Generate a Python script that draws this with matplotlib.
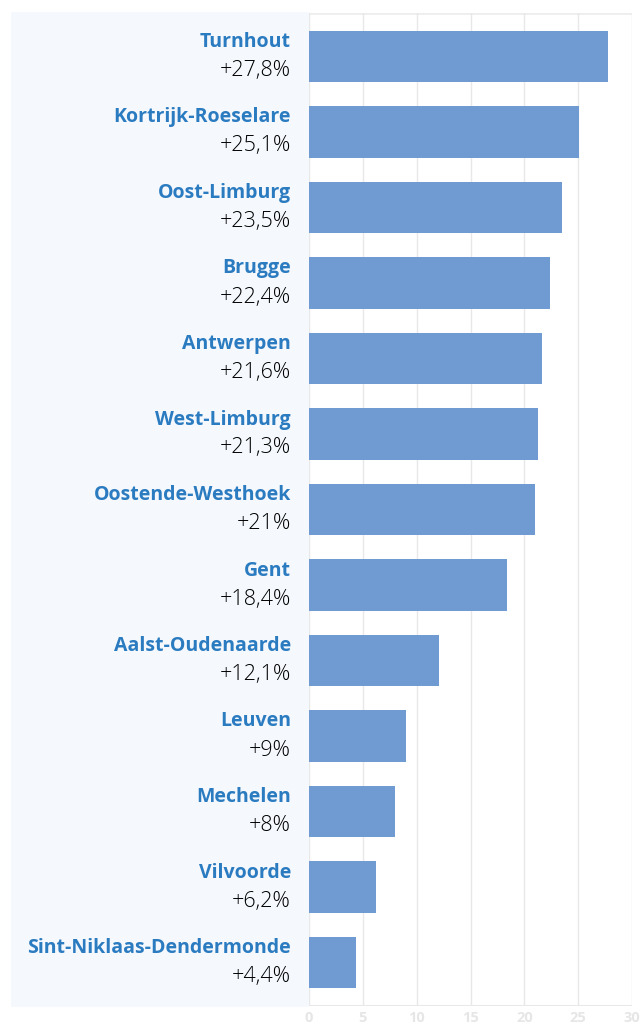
import matplotlib.pyplot as plt
from matplotlib.patches import Rectangle

regions = ["Turnhout", "Kortrijk-Roeselare", "Oost-Limburg", "Brugge", "Antwerpen",
           "West-Limburg", "Oostende-Westhoek", "Gent", "Aalst-Oudenaarde", "Leuven",
           "Mechelen", "Vilvoorde", "Sint-Niklaas-Dendermonde"]
growth = [27.8, 25.1, 23.5, 22.4, 21.6, 21.3, 21.0, 18.4, 12.1, 9.0, 8.0, 6.2, 4.4]
value_labels = ["+27,8%", "+25,1%", "+23,5%", "+22,4%", "+21,6%", "+21,3%", "+21%",
                "+18,4%", "+12,1%", "+9%", "+8%", "+6,2%", "+4,4%"]
xticks = [0, 5, 10, 15, 20, 25, 30]

W, H = 643, 1026
fig = plt.figure(figsize=(W / 100, H / 100), dpi=100)

# light panel behind the category labels
panel = Rectangle((11 / W, 1 - 1007 / H), (309 - 11) / W, (1007 - 12) / H,
                  transform=fig.transFigure, facecolor="#f5f9fe",
                  edgecolor="none", zorder=-5)
fig.add_artist(panel)

left, right, top, bottom = 309, 632, 13, 1006
ax = fig.add_axes([left / W, 1 - bottom / H, (right - left) / W, (bottom - top) / H])
ax.set_facecolor("none")
ax.set_zorder(1)

n = len(regions)
ypos = list(range(n))
row_px = 75.5
first_center = 56.5
ax.barh(ypos, growth, height=0.68, color="#6f9bd2", zorder=3)
ax.set_ylim((n - 1) + (bottom - (first_center + row_px * (n - 1))) / row_px,
            -(first_center - top) / row_px)
ax.set_xlim(0, 30)

ax.set_xticks(xticks)
ax.set_xticklabels([str(t) for t in xticks], color="#e6e6e6", fontsize=10.5,
                   fontweight="bold", family=["Open Sans", "DejaVu Sans"])
ax.tick_params(axis="x", length=0, pad=3.5)
ax.set_yticks([])
ax.grid(axis="x", color="#e8e8e8", linewidth=1, zorder=0)
for s in ["left", "right", "bottom", "top"]:
    ax.spines[s].set_visible(False)
ax.axhline(ax.get_ylim()[0], color="#e8e8e8", linewidth=1.5, zorder=1)
ax.axhline(ax.get_ylim()[1], color="#eeeeee", linewidth=2, zorder=1)

px_per_unit_x = (right - left) / 30
dx = -18 / px_per_unit_x

for i, (name, val) in enumerate(zip(regions, value_labels)):
    ax.text(dx, i - 14.5 / row_px, name, ha="right", va="center", fontsize=14,
            fontweight="bold", color="#2b7bc0", family=["Open Sans", "DejaVu Sans"],
            clip_on=False)
    ax.text(dx, i + 14 / row_px, val, ha="right", va="center", fontsize=15.5,
            fontweight="light", color="#000000", family=["Open Sans", "DejaVu Sans"],
            clip_on=False)

fig.savefig("out.png", dpi=100)
